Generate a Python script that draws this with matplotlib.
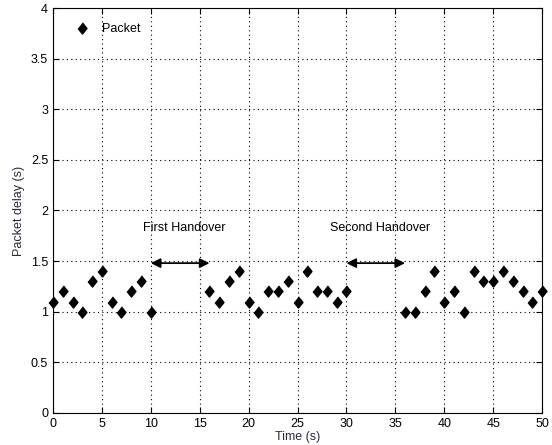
import numpy as np
import matplotlib
matplotlib.use("Agg")
import matplotlib.pyplot as plt

plt.rcParams['font.family'] = ['Liberation Sans', 'DejaVu Sans']

t1 = [0, 1, 2, 3, 4, 5, 6, 7, 8, 9, 10]
d1 = [1.1, 1.2, 1.1, 1.0, 1.3, 1.4, 1.1, 1.0, 1.2, 1.3, 1.0]
t2 = [16, 17, 18, 19, 20, 21, 22, 23, 24, 25, 26, 27, 28, 29, 30]
d2 = [1.2, 1.1, 1.3, 1.4, 1.1, 1.0, 1.2, 1.2, 1.3, 1.1, 1.4, 1.2, 1.2, 1.1, 1.2]
t3 = [36, 37, 38, 39, 40, 41, 42, 43, 44, 45, 46, 47, 48, 49, 50]
d3 = [1.0, 1.0, 1.2, 1.4, 1.1, 1.2, 1.0, 1.4, 1.3, 1.3, 1.4, 1.3, 1.2, 1.1, 1.2]

handovers = [(10, 16, "First Handover"), (30, 36, "Second Handover")]

t = t1 + t2 + t3
d = d1 + d2 + d3

fig = plt.figure(figsize=(5.52, 4.45), dpi=100)
ax = fig.add_axes([0.096, 0.072, 0.886, 0.91])

# diamond a little taller than wide, like the original
ax.plot(t, d, linestyle='none', marker=[(0, 1), (0.8, 0), (0, -1), (-0.8, 0)],
        color='black', markersize=8, label='Packet', clip_on=False, zorder=3)

for a, b, txt in handovers:
    ax.annotate('', xy=(a, 1.48), xytext=(b, 1.48),
                arrowprops=dict(arrowstyle='<|-|>', color='black', lw=1.3,
                                mutation_scale=14, shrinkA=0, shrinkB=0))
    ax.text((a + b) / 2 + 0.4, 1.83, txt, ha='center', va='center', fontsize=9)

ax.set_xlim(0, 50)
ax.set_ylim(0, 4)
ax.set_xticks(np.arange(0, 51, 5))
ax.set_yticks(np.arange(0, 4.01, 0.5))
ax.set_yticklabels(['0', '0.5', '1', '1.5', '2', '2.5', '3', '3.5', '4'])
ax.tick_params(direction='in', labelsize=9, length=4, top=True, right=True)
ax.grid(True, linestyle=(0, (1, 3)), color='black', linewidth=0.8)
ax.set_xlabel('Time (s)', fontsize=9, color='#2b2b3b', labelpad=1)
ax.set_ylabel('Packet delay (s)', fontsize=9, color='#2b2b3b', labelpad=4)

leg = ax.legend(loc='upper left', frameon=False, fontsize=9, handletextpad=0.6,
                bbox_to_anchor=(0.01, 0.99))

plt.savefig('out.png', dpi=100)
